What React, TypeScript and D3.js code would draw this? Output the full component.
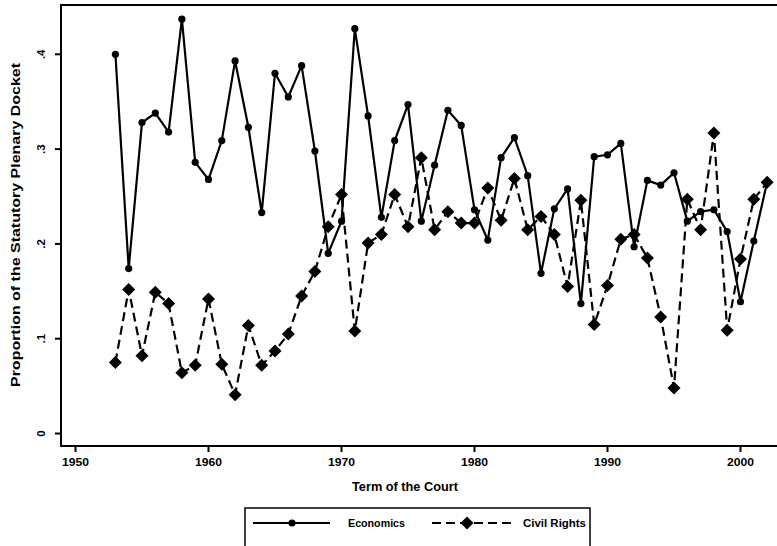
import React from "react";
import * as d3 from "d3";

const years = d3.range(1953, 2003);
const economics = [
  0.400, 0.174, 0.328, 0.338, 0.318, 0.437, 0.286, 0.268, 0.309, 0.393,
  0.323, 0.233, 0.380, 0.355, 0.388, 0.298, 0.190, 0.224, 0.427, 0.335,
  0.228, 0.309, 0.347, 0.224, 0.283, 0.341, 0.325, 0.236, 0.204, 0.291,
  0.312, 0.272, 0.169, 0.237, 0.258, 0.137, 0.292, 0.294, 0.306, 0.197,
  0.267, 0.262, 0.275, 0.224, 0.234, 0.236, 0.213, 0.139, 0.203, 0.265,
];
const civilRights = [
  0.075, 0.152, 0.082, 0.149, 0.137, 0.064, 0.072, 0.142, 0.073, 0.041,
  0.114, 0.072, 0.087, 0.105, 0.145, 0.171, 0.218, 0.252, 0.108, 0.201,
  0.210, 0.252, 0.218, 0.291, 0.215, 0.234, 0.222, 0.222, 0.259, 0.225,
  0.269, 0.215, 0.229, 0.210, 0.155, 0.246, 0.115, 0.156, 0.205, 0.210,
  0.185, 0.123, 0.048, 0.247, 0.215, 0.317, 0.109, 0.184, 0.247, 0.265,
];
const xTicks = [1950, 1960, 1970, 1980, 1990, 2000];
const yTicks = [0, 0.1, 0.2, 0.3, 0.4];
const yTickLabels = ["0", ".1", ".2", ".3", ".4"];
const seriesNames = ["Economics", "Civil Rights"];

const FONT = "'Liberation Sans', Arial, sans-serif";

export default function App() {
  const x = d3.scaleLinear().domain([1950, 2000]).range([75.5, 740.5]);
  const y = d3.scaleLinear().domain([0, 0.4]).range([433.5, 54.3]);
  const line = d3
    .line<number>()
    .x((_, i) => x(years[i]))
    .y((d) => y(d));
  const left = 61, top = 5, bottom = 446, right = 777;
  const diamond = (cx: number, cy: number, r: number) =>
    `M${cx},${cy - r}L${cx + r},${cy}L${cx},${cy + r}L${cx - r},${cy}Z`;

  return (
    <svg
      width={777}
      height={546}
      style={{ position: "absolute", left: 0, top: 0, background: "#fff" }}
      fontFamily={FONT}
    >
      <rect width={777} height={546} fill="#fff" />
      {/* frame */}
      <path
        d={`M${right},${top}H${left}V${bottom}H${right}`}
        fill="none"
        stroke="#000"
        strokeWidth={2}
      />
      {/* x ticks */}
      {xTicks.map((t) => (
        <g key={t}>
          <line x1={x(t)} x2={x(t)} y1={bottom} y2={bottom + 6} stroke="#000" strokeWidth={2} />
          <text
            x={x(t)}
            y={bottom + 20}
            textAnchor="middle"
            fontSize={11.5}
            fontWeight="bold"
            textLength={27}
            lengthAdjust="spacingAndGlyphs"
          >
            {t}
          </text>
        </g>
      ))}
      {/* y ticks */}
      {yTicks.map((t, i) => (
        <g key={t}>
          <line x1={left - 6} x2={left} y1={y(t)} y2={y(t)} stroke="#000" strokeWidth={2} />
          <text
            transform={`translate(${left - 16},${y(t)}) rotate(-90)`}
            textAnchor="middle"
            fontSize={11.5}
            fontWeight="bold"
          >
            {yTickLabels[i]}
          </text>
        </g>
      ))}
      {/* axis titles */}
      <text
        transform={`translate(20,${225}) rotate(-90)`}
        textAnchor="middle"
        fontSize={13.5}
        fontWeight="bold"
        textLength={324}
        lengthAdjust="spacingAndGlyphs"
      >
        Proportion of the Statutory Plenary Docket
      </text>
      <text
        x={405}
        y={491}
        textAnchor="middle"
        fontSize={12.5}
        fontWeight="bold"
        textLength={106}
        lengthAdjust="spacingAndGlyphs"
      >
        Term of the Court
      </text>

      {/* civil rights */}
      <path
        d={line(civilRights) || ""}
        fill="none"
        stroke="#000"
        strokeWidth={2.2}
        strokeDasharray="9,5"
      />
      {civilRights.map((v, i) => (
        <path key={"c" + i} d={diamond(x(years[i]), y(v), 6.5)} fill="#000" />
      ))}
      {/* economics */}
      <path d={line(economics) || ""} fill="none" stroke="#000" strokeWidth={2.2} />
      {economics.map((v, i) => (
        <circle key={"e" + i} cx={x(years[i])} cy={y(v)} r={3.6} fill="#000" />
      ))}

      {/* legend */}
      <path d="M245,546V508H590V546" fill="none" stroke="#000" strokeWidth={1.5} />
      <line x1={253} x2={330} y1={523} y2={523} stroke="#000" strokeWidth={2} />
      <circle cx={292} cy={523} r={3.6} fill="#000" />
      <text
        x={348}
        y={527}
        fontSize={10}
        fontWeight="bold"
        textLength={57}
        lengthAdjust="spacingAndGlyphs"
      >
        {seriesNames[0]}
      </text>
      <line
        x1={432}
        x2={513}
        y1={523}
        y2={523}
        stroke="#000"
        strokeWidth={2}
        strokeDasharray="9,5"
      />
      <path d={diamond(467, 523, 6.5)} fill="#000" />
      <text
        x={523}
        y={527}
        fontSize={10}
        fontWeight="bold"
        textLength={63}
        lengthAdjust="spacingAndGlyphs"
      >
        {seriesNames[1]}
      </text>
    </svg>
  );
}
